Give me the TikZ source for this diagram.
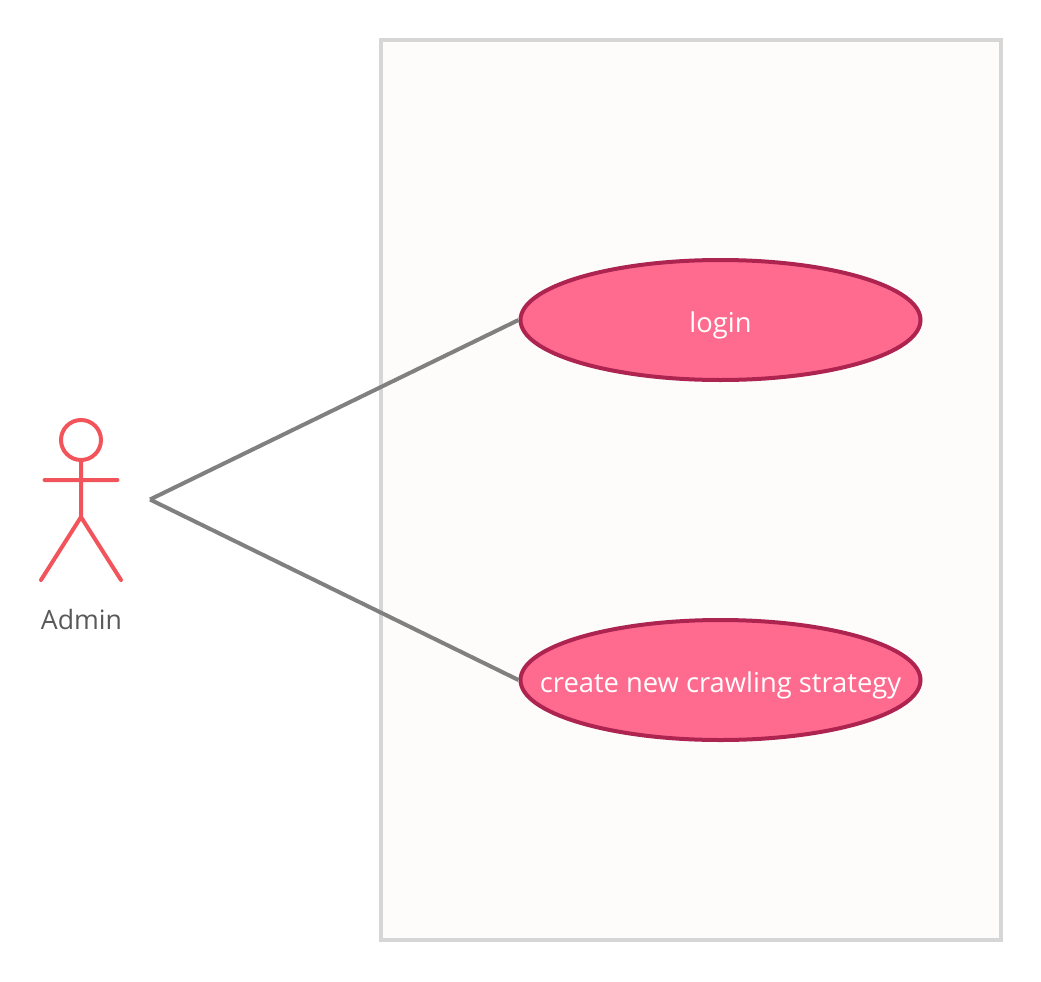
\documentclass[tikz,border=0pt]{standalone}
\usepackage{fontspec}
\setmainfont{Open Sans}
\usetikzlibrary{shapes,positioning}

\definecolor{actorred}{HTML}{F2545B}
\definecolor{usefill}{HTML}{FF6B8F}
\definecolor{usedraw}{HTML}{AD2450}
\definecolor{sysfill}{HTML}{FDFCFA}
\definecolor{sysdraw}{HTML}{D6D6D6}
\definecolor{linkgray}{HTML}{808080}
\definecolor{admintext}{HTML}{595959}

\newcommand{\usetext}[1]{\smash{\raisebox{-9.2pt}{\makebox[0pt]{#1}}}}

\tikzset{
	usecase/.style={
		ellipse, draw=usedraw, fill=usefill, line width=3pt, inner sep=0pt,
		minimum width=300pt, minimum height=90pt,
		text=white, font=\fontsize{20.5}{24}\selectfont
	},
	system/.style={
		rectangle, draw=sysdraw, fill=sysfill, line width=2.8pt, inner sep=0pt,
		minimum width=465pt, minimum height=675pt
	},
	link/.style={draw=linkgray, line width=3pt}
}

\tikzset{
	actor/.pic={
		\draw[actorred, line width=3pt, line cap=round]
			(0,-60) circle (20)
			(0,-40) -- (0,17)
			(-36.5,-20) -- (36.5,-20)
			(-40,80) -- (0,17) -- (40,80);
	}
}

\begin{document}
\begin{tikzpicture}[x=0.75pt,y=-0.75pt]
\useasboundingbox (0,0) rectangle (1041,981);

% system box
\node[system] (sys) at (691,490) {};

% actor
\pic [local bounding box=admin] at (81,500) {actor};
\node[text=admintext, font=\fontsize{20}{24}\selectfont] (adminlabel) at (81.5,619) {Admin};
\coordinate (adminlink) at (150,499.5);

% use cases
\node[usecase] (login) at (720.5,320) {\usetext{login}};
\node[usecase] (strategy) at (720.5,680) {\usetext{create new crawling strategy}};

% links
\draw[link] (adminlink) -- (login.west);
\draw[link] (adminlink) -- (strategy.west);

\end{tikzpicture}
\end{document}
